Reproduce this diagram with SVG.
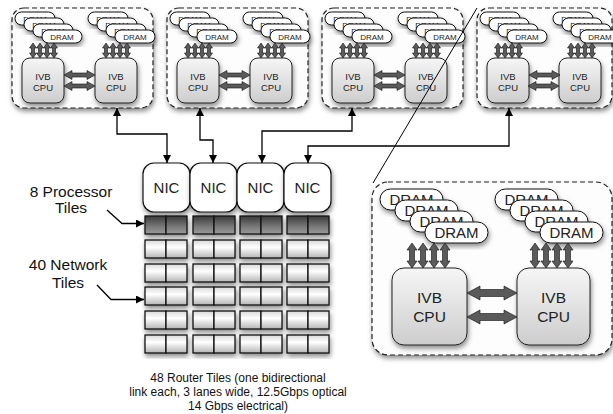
<svg xmlns="http://www.w3.org/2000/svg" xmlns:xlink="http://www.w3.org/1999/xlink" width="613" height="414" viewBox="0 0 613 414">
<defs>
<filter id="sh" x="-20%" y="-20%" width="140%" height="150%">
<feDropShadow dx="1" dy="3" stdDeviation="2.5" flood-color="#000" flood-opacity="0.45"/>
</filter>
<linearGradient id="gcpu" x1="0" y1="0" x2="0" y2="1">
<stop offset="0" stop-color="#f6f6f6"/><stop offset="1" stop-color="#cdcdcd"/>
</linearGradient>
<linearGradient id="gnet" x1="0" y1="0" x2="0" y2="1">
<stop offset="0" stop-color="#d8d8d8"/><stop offset="0.4" stop-color="#ffffff"/><stop offset="1" stop-color="#b5b5b5"/>
</linearGradient>
<linearGradient id="gproc" x1="0" y1="0" x2="0" y2="1">
<stop offset="0" stop-color="#3a3a3a"/><stop offset="0.6" stop-color="#7a7a7a"/><stop offset="1" stop-color="#9a9a9a"/>
</linearGradient>
<marker id="ah" viewBox="0 0 10 10" refX="10" refY="5" markerWidth="8" markerHeight="8" markerUnits="userSpaceOnUse" orient="auto-start-reverse">
<path d="M0,0 L10,5 L0,10 Z" fill="#000"/>
</marker>
<path id="va" d="M0,0 L3.5,5 L1.5,5 L1.5,10 L3.5,10 L0,15 L-3.5,10 L-1.5,10 L-1.5,5 L-3.5,5 Z"/>
<path id="ha" d="M0,0 L8,-4.5 L8,-2 L23,-2 L23,-4.5 L31,0 L23,4.5 L23,2 L8,2 L8,4.5 Z"/>
<path id="vb" d="M0,0 L5,7 L2.5,7 L2.5,18 L5,18 L0,25 L-5,18 L-2.5,18 L-2.5,7 L-5,7 Z"/>
<path id="hb" d="M0,0 L13,-7 L13,-3.5 L37,-3.5 L37,-7 L50,0 L37,7 L37,3.5 L13,3.5 L13,7 Z"/>
</defs>
<style>
.dbox{fill:#fdfdfd;stroke:#222;stroke-width:1.2;stroke-dasharray:5 3;filter:url(#sh)}
.dram{fill:#fff;stroke:#111;stroke-width:1;filter:url(#sh)}
.cpu{fill:url(#gcpu);stroke:#222;stroke-width:1;filter:url(#sh)}
.arr{fill:#5a5a5a;stroke:#111;stroke-width:0.6}
.st{font-family:"Liberation Sans",Arial,sans-serif;fill:#222;text-anchor:middle}
.ds{font-size:8px}
.cs{font-size:9.5px}
.dl{font-size:15px}
.cl{font-size:15.5px}
.nic{fill:#fff;stroke:#111;stroke-width:1.2;filter:url(#sh)}
.tn{fill:url(#gnet);stroke:#111;stroke-width:1.3}
.tp{fill:url(#gproc);stroke:#111;stroke-width:1.3}
.grp{filter:url(#sh)}
.lbl{font-family:"Liberation Sans",Arial,sans-serif;font-size:15.5px;fill:#111;text-anchor:middle}
.cap{font-family:"Liberation Sans",Arial,sans-serif;font-size:12px;fill:#111;text-anchor:middle}
.con{fill:none;stroke:#000;stroke-width:1.3}
</style>

<g id="node-box1" transform="translate(12,8)">
<rect class="dbox" x="0" y="0" width="141" height="100" rx="12"/>
<rect class="dram" x="3" y="4" width="40" height="13" rx="6.5"/><text class="st ds" x="23" y="13.5">DRAM</text>
<rect class="dram" x="12" y="10" width="40" height="13" rx="6.5"/><text class="st ds" x="32" y="19.5">DRAM</text>
<rect class="dram" x="21" y="16" width="40" height="13" rx="6.5"/><text class="st ds" x="41" y="25.5">DRAM</text>
<rect class="dram" x="30" y="22" width="40" height="13" rx="6.5"/><text class="st ds" x="50" y="31.5">DRAM</text>
<rect class="dram" x="76" y="4" width="40" height="13" rx="6.5"/><text class="st ds" x="96" y="13.5">DRAM</text>
<rect class="dram" x="85" y="10" width="40" height="13" rx="6.5"/><text class="st ds" x="105" y="19.5">DRAM</text>
<rect class="dram" x="94" y="16" width="40" height="13" rx="6.5"/><text class="st ds" x="114" y="25.5">DRAM</text>
<rect class="dram" x="103" y="22" width="40" height="13" rx="6.5"/><text class="st ds" x="123" y="31.5">DRAM</text>
<rect class="cpu" x="10" y="50" width="42" height="45" rx="8"/>
<text class="st cs" x="31" y="72">IVB</text><text class="st cs" x="31" y="83">CPU</text>
<rect class="cpu" x="83" y="50" width="42" height="45" rx="8"/>
<text class="st cs" x="104" y="72">IVB</text><text class="st cs" x="104" y="83">CPU</text>
<use href="#va" class="arr" x="21" y="35"/><use href="#va" class="arr" x="28" y="35"/><use href="#va" class="arr" x="35" y="35"/><use href="#va" class="arr" x="42" y="35"/>
<use href="#va" class="arr" x="94" y="35"/><use href="#va" class="arr" x="101" y="35"/><use href="#va" class="arr" x="108" y="35"/><use href="#va" class="arr" x="115" y="35"/>
<use href="#ha" class="arr" x="52" y="67"/><use href="#ha" class="arr" x="52" y="78"/>
</g>

<g id="node-box2" transform="translate(167,8)">
<rect class="dbox" x="0" y="0" width="141" height="100" rx="12"/>
<rect class="dram" x="3" y="4" width="40" height="13" rx="6.5"/><text class="st ds" x="23" y="13.5">DRAM</text>
<rect class="dram" x="12" y="10" width="40" height="13" rx="6.5"/><text class="st ds" x="32" y="19.5">DRAM</text>
<rect class="dram" x="21" y="16" width="40" height="13" rx="6.5"/><text class="st ds" x="41" y="25.5">DRAM</text>
<rect class="dram" x="30" y="22" width="40" height="13" rx="6.5"/><text class="st ds" x="50" y="31.5">DRAM</text>
<rect class="dram" x="76" y="4" width="40" height="13" rx="6.5"/><text class="st ds" x="96" y="13.5">DRAM</text>
<rect class="dram" x="85" y="10" width="40" height="13" rx="6.5"/><text class="st ds" x="105" y="19.5">DRAM</text>
<rect class="dram" x="94" y="16" width="40" height="13" rx="6.5"/><text class="st ds" x="114" y="25.5">DRAM</text>
<rect class="dram" x="103" y="22" width="40" height="13" rx="6.5"/><text class="st ds" x="123" y="31.5">DRAM</text>
<rect class="cpu" x="10" y="50" width="42" height="45" rx="8"/>
<text class="st cs" x="31" y="72">IVB</text><text class="st cs" x="31" y="83">CPU</text>
<rect class="cpu" x="83" y="50" width="42" height="45" rx="8"/>
<text class="st cs" x="104" y="72">IVB</text><text class="st cs" x="104" y="83">CPU</text>
<use href="#va" class="arr" x="21" y="35"/><use href="#va" class="arr" x="28" y="35"/><use href="#va" class="arr" x="35" y="35"/><use href="#va" class="arr" x="42" y="35"/>
<use href="#va" class="arr" x="94" y="35"/><use href="#va" class="arr" x="101" y="35"/><use href="#va" class="arr" x="108" y="35"/><use href="#va" class="arr" x="115" y="35"/>
<use href="#ha" class="arr" x="52" y="67"/><use href="#ha" class="arr" x="52" y="78"/>
</g>

<g id="node-box3" transform="translate(322,8)">
<rect class="dbox" x="0" y="0" width="141" height="100" rx="12"/>
<rect class="dram" x="3" y="4" width="40" height="13" rx="6.5"/><text class="st ds" x="23" y="13.5">DRAM</text>
<rect class="dram" x="12" y="10" width="40" height="13" rx="6.5"/><text class="st ds" x="32" y="19.5">DRAM</text>
<rect class="dram" x="21" y="16" width="40" height="13" rx="6.5"/><text class="st ds" x="41" y="25.5">DRAM</text>
<rect class="dram" x="30" y="22" width="40" height="13" rx="6.5"/><text class="st ds" x="50" y="31.5">DRAM</text>
<rect class="dram" x="76" y="4" width="40" height="13" rx="6.5"/><text class="st ds" x="96" y="13.5">DRAM</text>
<rect class="dram" x="85" y="10" width="40" height="13" rx="6.5"/><text class="st ds" x="105" y="19.5">DRAM</text>
<rect class="dram" x="94" y="16" width="40" height="13" rx="6.5"/><text class="st ds" x="114" y="25.5">DRAM</text>
<rect class="dram" x="103" y="22" width="40" height="13" rx="6.5"/><text class="st ds" x="123" y="31.5">DRAM</text>
<rect class="cpu" x="10" y="50" width="42" height="45" rx="8"/>
<text class="st cs" x="31" y="72">IVB</text><text class="st cs" x="31" y="83">CPU</text>
<rect class="cpu" x="83" y="50" width="42" height="45" rx="8"/>
<text class="st cs" x="104" y="72">IVB</text><text class="st cs" x="104" y="83">CPU</text>
<use href="#va" class="arr" x="21" y="35"/><use href="#va" class="arr" x="28" y="35"/><use href="#va" class="arr" x="35" y="35"/><use href="#va" class="arr" x="42" y="35"/>
<use href="#va" class="arr" x="94" y="35"/><use href="#va" class="arr" x="101" y="35"/><use href="#va" class="arr" x="108" y="35"/><use href="#va" class="arr" x="115" y="35"/>
<use href="#ha" class="arr" x="52" y="67"/><use href="#ha" class="arr" x="52" y="78"/>
</g>

<g id="node-box4" transform="translate(477,8)">
<rect class="dbox" x="0" y="0" width="135" height="100" rx="12"/>
<rect class="dram" x="3" y="4" width="40" height="13" rx="6.5"/><text class="st ds" x="23" y="13.5">DRAM</text>
<rect class="dram" x="12" y="10" width="40" height="13" rx="6.5"/><text class="st ds" x="32" y="19.5">DRAM</text>
<rect class="dram" x="21" y="16" width="40" height="13" rx="6.5"/><text class="st ds" x="41" y="25.5">DRAM</text>
<rect class="dram" x="30" y="22" width="40" height="13" rx="6.5"/><text class="st ds" x="50" y="31.5">DRAM</text>
<rect class="dram" x="76" y="4" width="40" height="13" rx="6.5"/><text class="st ds" x="96" y="13.5">DRAM</text>
<rect class="dram" x="85" y="10" width="40" height="13" rx="6.5"/><text class="st ds" x="105" y="19.5">DRAM</text>
<rect class="dram" x="94" y="16" width="40" height="13" rx="6.5"/><text class="st ds" x="114" y="25.5">DRAM</text>
<rect class="dram" x="103" y="22" width="40" height="13" rx="6.5"/><text class="st ds" x="123" y="31.5">DRAM</text>
<rect class="cpu" x="10" y="50" width="42" height="45" rx="8"/>
<text class="st cs" x="31" y="72">IVB</text><text class="st cs" x="31" y="83">CPU</text>
<rect class="cpu" x="82" y="50" width="42" height="45" rx="8"/>
<text class="st cs" x="103" y="72">IVB</text><text class="st cs" x="103" y="83">CPU</text>
<use href="#va" class="arr" x="21" y="35"/><use href="#va" class="arr" x="28" y="35"/><use href="#va" class="arr" x="35" y="35"/><use href="#va" class="arr" x="42" y="35"/>
<use href="#va" class="arr" x="94" y="35"/><use href="#va" class="arr" x="101" y="35"/><use href="#va" class="arr" x="108" y="35"/><use href="#va" class="arr" x="115" y="35"/>
<use href="#ha" class="arr" x="52" y="67"/><use href="#ha" class="arr" x="51" y="78"/>
</g>

<g id="node-inset">
<rect class="dbox" x="372" y="182" width="240" height="173" rx="16"/>
<rect class="dram" x="380" y="189" width="63" height="21" rx="10.5"/><text class="st dl" x="411.5" y="205">DRAM</text>
<rect class="dram" x="395" y="200" width="63" height="21" rx="10.5"/><text class="st dl" x="426.5" y="216">DRAM</text>
<rect class="dram" x="410" y="211" width="63" height="21" rx="10.5"/><text class="st dl" x="441.5" y="227">DRAM</text>
<rect class="dram" x="425" y="222" width="63" height="21" rx="10.5"/><text class="st dl" x="456.5" y="238">DRAM</text>
<rect class="dram" x="495" y="189" width="63" height="21" rx="10.5"/><text class="st dl" x="526.5" y="205">DRAM</text>
<rect class="dram" x="510" y="200" width="63" height="21" rx="10.5"/><text class="st dl" x="541.5" y="216">DRAM</text>
<rect class="dram" x="525" y="211" width="63" height="21" rx="10.5"/><text class="st dl" x="556.5" y="227">DRAM</text>
<rect class="dram" x="540" y="222" width="63" height="21" rx="10.5"/><text class="st dl" x="571.5" y="238">DRAM</text>
<rect class="cpu" x="392" y="268" width="75" height="77" rx="12"/>
<text class="st cl" x="429.5" y="303">IVB</text><text class="st cl" x="429.5" y="322">CPU</text>
<rect class="cpu" x="517" y="268" width="73" height="77" rx="12"/>
<text class="st cl" x="553.5" y="303">IVB</text><text class="st cl" x="553.5" y="322">CPU</text>
<use href="#vb" class="arr" x="412" y="243"/><use href="#vb" class="arr" x="423" y="243"/><use href="#vb" class="arr" x="434" y="243"/><use href="#vb" class="arr" x="445" y="243"/>
<use href="#vb" class="arr" x="535" y="243"/><use href="#vb" class="arr" x="546" y="243"/><use href="#vb" class="arr" x="557" y="243"/><use href="#vb" class="arr" x="568" y="243"/>
<use href="#hb" class="arr" x="467" y="293"/><use href="#hb" class="arr" x="467" y="317"/>
</g>

<g id="node-nic1"><rect class="nic" x="143" y="163" width="47" height="49" rx="11"/><text class="st dl" x="166.5" y="193">NIC</text></g>
<g id="node-nic2"><rect class="nic" x="190" y="163" width="47" height="49" rx="11"/><text class="st dl" x="213.5" y="193">NIC</text></g>
<g id="node-nic3"><rect class="nic" x="237" y="163" width="47" height="49" rx="11"/><text class="st dl" x="260.5" y="193">NIC</text></g>
<g id="node-nic4"><rect class="nic" x="284" y="163" width="47" height="49" rx="11"/><text class="st dl" x="307.5" y="193">NIC</text></g>

<g id="node-tiles">
<g class="grp">
<rect class="tp" x="145" y="216" width="21" height="18"/><rect class="tp" x="166" y="216" width="21" height="18"/>
<rect class="tp" x="193" y="216" width="21" height="18"/><rect class="tp" x="214" y="216" width="21" height="18"/>
<rect class="tp" x="240" y="216" width="21" height="18"/><rect class="tp" x="261" y="216" width="21" height="18"/>
<rect class="tp" x="287" y="216" width="21" height="18"/><rect class="tp" x="308" y="216" width="21" height="18"/>
</g>
<g class="grp">
<rect class="tn" x="145" y="240" width="21" height="18"/><rect class="tn" x="166" y="240" width="21" height="18"/>
<rect class="tn" x="193" y="240" width="21" height="18"/><rect class="tn" x="214" y="240" width="21" height="18"/>
<rect class="tn" x="240" y="240" width="21" height="18"/><rect class="tn" x="261" y="240" width="21" height="18"/>
<rect class="tn" x="287" y="240" width="21" height="18"/><rect class="tn" x="308" y="240" width="21" height="18"/>
</g>
<g class="grp">
<rect class="tn" x="145" y="264" width="21" height="18"/><rect class="tn" x="166" y="264" width="21" height="18"/>
<rect class="tn" x="193" y="264" width="21" height="18"/><rect class="tn" x="214" y="264" width="21" height="18"/>
<rect class="tn" x="240" y="264" width="21" height="18"/><rect class="tn" x="261" y="264" width="21" height="18"/>
<rect class="tn" x="287" y="264" width="21" height="18"/><rect class="tn" x="308" y="264" width="21" height="18"/>
</g>
<g class="grp">
<rect class="tn" x="145" y="287" width="21" height="18"/><rect class="tn" x="166" y="287" width="21" height="18"/>
<rect class="tn" x="193" y="287" width="21" height="18"/><rect class="tn" x="214" y="287" width="21" height="18"/>
<rect class="tn" x="240" y="287" width="21" height="18"/><rect class="tn" x="261" y="287" width="21" height="18"/>
<rect class="tn" x="287" y="287" width="21" height="18"/><rect class="tn" x="308" y="287" width="21" height="18"/>
</g>
<g class="grp">
<rect class="tn" x="145" y="311" width="21" height="18"/><rect class="tn" x="166" y="311" width="21" height="18"/>
<rect class="tn" x="193" y="311" width="21" height="18"/><rect class="tn" x="214" y="311" width="21" height="18"/>
<rect class="tn" x="240" y="311" width="21" height="18"/><rect class="tn" x="261" y="311" width="21" height="18"/>
<rect class="tn" x="287" y="311" width="21" height="18"/><rect class="tn" x="308" y="311" width="21" height="18"/>
</g>
<g class="grp">
<rect class="tn" x="145" y="335" width="21" height="18"/><rect class="tn" x="166" y="335" width="21" height="18"/>
<rect class="tn" x="193" y="335" width="21" height="18"/><rect class="tn" x="214" y="335" width="21" height="18"/>
<rect class="tn" x="240" y="335" width="21" height="18"/><rect class="tn" x="261" y="335" width="21" height="18"/>
<rect class="tn" x="287" y="335" width="21" height="18"/><rect class="tn" x="308" y="335" width="21" height="18"/>
</g>
</g>

<g id="labels">
<text class="lbl" x="71" y="197">8 Processor</text>
<text class="lbl" x="71" y="213">Tiles</text>
<text class="lbl" x="68" y="270">40 Network</text>
<text class="lbl" x="68" y="288">Tiles</text>
<text class="cap" x="238" y="382">48 Router Tiles (one bidirectional</text>
<text class="cap" x="238" y="396">link each, 3 lanes wide, 12.5Gbps optical</text>
<text class="cap" x="238" y="410">14 Gbps electrical)</text>
</g>

<g id="connectors">
<path class="con" d="M117,108 L117,134 L167,134 L167,163" marker-start="url(#ah)" marker-end="url(#ah)"/>
<path class="con" d="M200,108 L200,140 L213,140 L213,163" marker-start="url(#ah)" marker-end="url(#ah)"/>
<path class="con" d="M352,108 L352,131 L262,131 L262,163" marker-start="url(#ah)" marker-end="url(#ah)"/>
<path class="con" d="M509,108 L509,146 L308,146 L308,163" marker-start="url(#ah)" marker-end="url(#ah)"/>
<path class="con" d="M107,210 L122,223.5 L144,223.5" marker-end="url(#ah)"/>
<path class="con" d="M97,285 L111,299.5 L144,299.5" marker-end="url(#ah)"/>
<line x1="477" y1="8" x2="373" y2="183" stroke="#000" stroke-width="1"/>
</g>
</svg>
